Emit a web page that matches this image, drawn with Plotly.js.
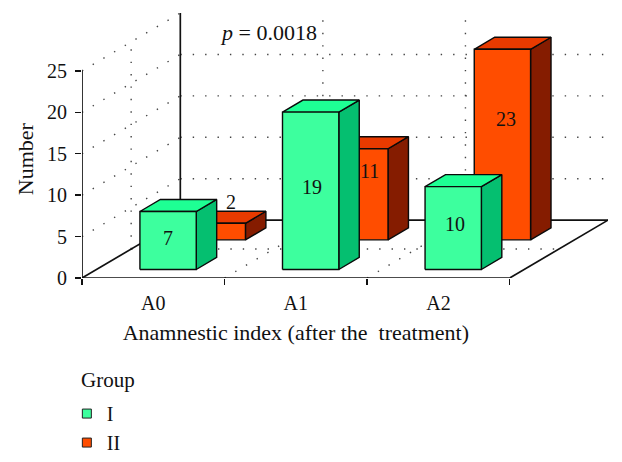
<!DOCTYPE html>
<html><head><meta charset="utf-8">
<script src="https://cdn.plot.ly/plotly-3.0.1.min.js"></script>
<style>html,body{margin:0;padding:0;background:#fff}</style></head>
<body><div id="chart" style="width:622px;height:462px"></div>
<script>
var categories = ["A0", "A1", "A2"];
var groupI = [7, 19, 10];
var groupII = [2, 11, 23];
var yTicks = [0, 5, 10, 15, 20, 25];
var groupNames = ["I", "II"];

// oblique projection: depth 0..1 maps to a shift in axis units
var DX = 0.6896, DY = 6.985, YMAX = 25, N = categories.length;
function px(x, d) { return x + d * DX; }
function py(y, d) { return y + d * DY; }
function polys(list) {
  var xs = [], ys = [];
  list.forEach(function (p) {
    p.forEach(function (q) { xs.push(px(q[0], q[2])); ys.push(py(q[1], q[2])); });
    xs.push(px(p[0][0], p[0][2])); ys.push(py(p[0][1], p[0][2]));
    xs.push(null); ys.push(null);
  });
  return { x: xs, y: ys };
}
function lines(list) { // each segment: [x0,y0,d0,x1,y1,d1]
  var xs = [], ys = [];
  list.forEach(function (s) {
    xs.push(px(s[0], s[2]), px(s[3], s[5]), null);
    ys.push(py(s[1], s[2]), py(s[4], s[5]), null);
  });
  return { x: xs, y: ys };
}
function lineTrace(seg, color, width, dash) {
  var l = lines(seg);
  return { type: "scatter", mode: "lines", x: l.x, y: l.y, hoverinfo: "skip", showlegend: false, cliponaxis: false,
    line: { color: color, width: width, dash: dash || "solid" } };
}
function faceTrace(list, color) {
  var p = polys(list);
  return { type: "scatter", mode: "lines", x: p.x, y: p.y, fill: "toself", fillcolor: color, hoverinfo: "skip",
    showlegend: false, cliponaxis: false, line: { color: "#0a0a0a", width: 1.4 } };
}

var W = 0.395, DEPTH = 0.208;
function barFaces(vals, left, d0, cFront, cTop, cSide) {
  var d1 = d0 + DEPTH, fr = [], to = [], si = [];
  vals.forEach(function (v, i) {
    var a = i + left, b = a + W;
    fr.push([[a, 0, d0], [b, 0, d0], [b, v, d0], [a, v, d0]]);
    to.push([[a, v, d0], [b, v, d0], [b, v, d1], [a, v, d1]]);
    si.push([[b, 0, d0], [b, 0, d1], [b, v, d1], [b, v, d0]]);
  });
  return [faceTrace(si, cSide), faceTrace(to, cTop), faceTrace(fr, cFront)];
}

var wallDots = [], floorDots = [];
yTicks.slice(1).forEach(function (t) {
  wallDots.push([0, t, 0, 0, t, 1]);
  if (t < YMAX) wallDots.push([0, t, 1, N, t, 1]);
});
wallDots.push([0, 0, 0.5, 0, YMAX, 0.5]);
for (var k = 1; k < N; k++) {
  wallDots.push([k, 0, 1, k, YMAX, 1]);
  floorDots.push([k, 0, 0, k, 0, 1]);
}
floorDots.push([0, 0, 0.5, N, 0, 0.5]);

var solid = [
  [0, 0, 0, N, 0, 0], [N, 0, 0, N, 0, 1], [0, 0, 1, N, 0, 1], [0, 0, 0, 0, 0, 1],
  [0, 0, 0, 0, YMAX, 0], [0, 0, 1, 0, YMAX, 1]
];

var LI = 0.305, DI = 0.147, LII = 0.297, DII = 0.659;
var traces = [
  lineTrace(wallDots, "#444", 1.4, "1.4px,11px"),
  lineTrace(floorDots, "#444", 1.4, "1.4px,11px"),
  lineTrace(solid, "#111", 1.7)
].concat(
  barFaces(groupII, LII, DII, "#FF4D00", "#E83A00", "#851C00"),
  barFaces(groupI, LI, DI, "#3DFF9E", "#1EFF94", "#05BF70")
);
groupNames.forEach(function (n, i) {
  traces.push({ type: "scatter", mode: "markers", x: [null], y: [null], name: n, xaxis: "x2", yaxis: "y2", showlegend: true, hoverinfo: "skip",
    marker: { symbol: "square", size: 9, color: i ? "#FF4D00" : "#3DFF9E", line: { color: "#222", width: 1 } } });
});

var FONT = "Liberation Serif";
function valueNote(v, i, left, d, xs, ys) {
  return { x: px(i + left + W / 2, d), y: py(v / 2, d), text: String(v), showarrow: false, xshift: xs, yshift: ys,
    font: { family: FONT, size: 20, color: "#111" } };
}
var notes = [
  valueNote(groupII[0], 0, LII, DII, 14, 30),
  valueNote(groupII[1], 1, LII, DII, 10, 23),
  valueNote(groupII[2], 2, LII, DII, 4, 26),
  valueNote(groupI[0], 0, LI, DI, 0, 2.5),
  valueNote(groupI[1], 1, LI, DI, 1, 4),
  valueNote(groupI[2], 2, LI, DI, 1.5, 4),
  { xref: "paper", yref: "paper", x: 0.354, y: 0.928, xanchor: "center", yanchor: "middle", showarrow: false, text: "<i>p</i> = 0.0018",
    font: { family: FONT, size: 22, color: "#111" } },
  { xref: "paper", yref: "paper", x: -0.002, y: -0.385, xanchor: "left", yanchor: "middle", showarrow: false, text: "Group",
    borderpad: 0, borderwidth: 0, font: { family: FONT, size: 21, color: "#111" } }
];

var layout = {
  width: 622, height: 462, paper_bgcolor: "#fff", plot_bgcolor: "rgba(0,0,0,0)",
  margin: { l: 81.5, r: 13.5, t: 13, b: 184, autoexpand: false },
  font: { family: FONT, size: 20, color: "#111" },
  showlegend: true,
  legend: { x: -0.0288, y: -0.438, xanchor: "left", yanchor: "top", bgcolor: "rgba(0,0,0,0)", maxheight: 200,
    font: { family: FONT, size: 20, color: "#111" }, itemwidth: 30, tracegroupgap: 0 },
  // hidden scales for the oblique drawing, covering the walls and the floor
  xaxis: { range: [0, N + DX], visible: false, fixedrange: true },
  yaxis: { range: [0, YMAX + DY], visible: false, fixedrange: true },
  // visible axes: same scale as the hidden ones, on the front plane only
  xaxis2: {
    domain: [0, N / (N + DX)], anchor: "y2",
    range: [0, N], showgrid: false, zeroline: false, showline: false, fixedrange: true,
    tickmode: "array", tickvals: categories.map(function (c, i) { return i + 0.5; }), ticktext: categories,
    ticks: "", ticklabelstandoff: 11,
    tickfont: { family: FONT, size: 20, color: "#111" },
    minor: { tickmode: "array", tickvals: [0, 1, 2, 3], ticks: "outside", ticklen: 6, tickwidth: 1.5, tickcolor: "#111", showgrid: false },
    title: { text: "Anamnestic index (after the  treatment)", standoff: 11, font: { family: FONT, size: 22, color: "#111" } }
  },
  yaxis2: {
    domain: [0, 28.69 / (YMAX + DY)], anchor: "x2",
    range: [0, 28.69], showgrid: false, zeroline: false, showline: false, fixedrange: true,
    tickmode: "array", tickvals: yTicks, ticks: "outside", ticklen: 6, tickwidth: 1.5, tickcolor: "#111", ticklabelstandoff: 4,
    tickfont: { family: FONT, size: 20, color: "#111" },
    title: { text: "Number", standoff: 7, font: { family: FONT, size: 22, color: "#111" } }
  },
  annotations: notes
};
Plotly.newPlot("chart", traces, layout, { staticPlot: true, displayModeBar: false });
</script></body></html>
